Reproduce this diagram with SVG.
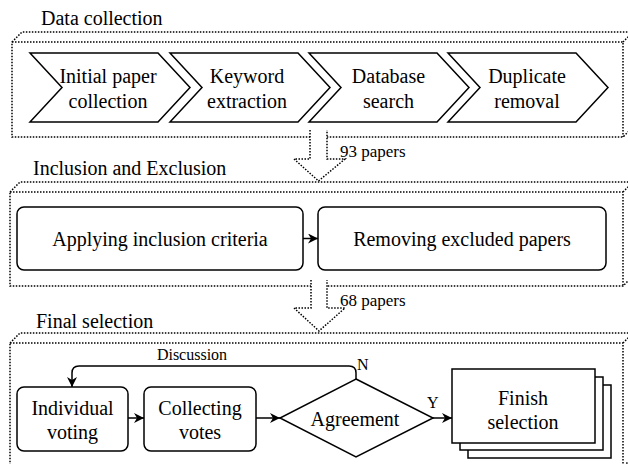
<svg xmlns="http://www.w3.org/2000/svg" width="628" height="464" viewBox="0 0 628 464" font-family="'Liberation Serif', 'DejaVu Serif', serif">
<style>
text{font-family:'Liberation Serif','Times New Roman','DejaVu Serif',serif;fill:#000}
.t20{font-size:20px}
.t17{font-size:17px}
.t16{font-size:16px}
.c{text-anchor:middle}
.dot{fill:#fff;stroke:#000;stroke-width:1.5;stroke-dasharray:1.5 1.5}
.dotl{fill:none;stroke:#000;stroke-width:1.5;stroke-dasharray:1.5 1.5}
.n{fill:#fff;stroke:#000;stroke-width:1.5}
.e{fill:none;stroke:#000;stroke-width:1.5}
</style>
<defs>
<marker id="ah" viewBox="0 0 10 10" refX="10" refY="5" markerWidth="10" markerHeight="10" markerUnits="userSpaceOnUse" orient="auto">
<path d="M0,0 L10,5 L0,10 L3,5 Z" fill="#000"/>
</marker>
</defs>

<g id="containers">
<g id="c1">
<path class="dot" d="M12,42 L22,32 L633,32 L633,127 L623,137 L12,137 Z"/>
<path class="dotl" d="M12,42 L623,42 L623,137 M623,42 L633,32"/>
<text class="t20" x="41" y="25">Data collection</text>
</g>
<g id="c2">
<path class="dot" d="M10,192 L20,182 L633,182 L633,276 L623,286 L10,286 Z"/>
<path class="dotl" d="M10,192 L623,192 L623,286 M623,192 L633,182"/>
<text class="t20" x="33" y="175">Inclusion and Exclusion</text>
</g>
<g id="c3">
<path class="dot" d="M10,343 L20,333 L633,333 L633,457 L623,467 L10,467 Z"/>
<path class="dotl" d="M10,343 L623,343 L623,467 M623,343 L633,333"/>
<text class="t20" x="36" y="328">Final selection</text>
</g>
</g>

<g id="flow1">
<path class="dot" d="M310,130 L310,159 L294,159 L318.5,181 L345,159 L327,159 L327,130"/>
<text class="t17" x="340" y="157">93 papers</text>
</g>
<g id="flow2">
<path class="dot" d="M311,280 L311,308 L294,308 L319,331 L345,308 L327,308 L327,280"/>
<text class="t17" x="340" y="306">68 papers</text>
</g>

<g id="s1">
<path class="n" d="M30,53 L158,53 L190,87.5 L158,122 L30,122 L62,87.5 Z"/>
<text class="t20 c" x="108" y="83">Initial paper</text>
<text class="t20 c" x="108" y="108">collection</text>
</g>
<g id="s2">
<path class="n" d="M170,53 L298,53 L330,87.5 L298,122 L170,122 L202,87.5 Z"/>
<text class="t20 c" x="247" y="83">Keyword</text>
<text class="t20 c" x="247" y="108">extraction</text>
</g>
<g id="s3">
<path class="n" d="M309,53 L437,53 L469,87.5 L437,122 L309,122 L341,87.5 Z"/>
<text class="t20 c" x="388.5" y="83">Database</text>
<text class="t20 c" x="388.5" y="108">search</text>
</g>
<g id="s4">
<path class="n" d="M448,53 L576,53 L608,87.5 L576,122 L448,122 L480,87.5 Z"/>
<text class="t20 c" x="527" y="83">Duplicate</text>
<text class="t20 c" x="527" y="108">removal</text>
</g>

<g id="inc">
<rect class="n" x="17" y="207" width="286" height="63" rx="7"/>
<text class="t20 c" x="160" y="246">Applying inclusion criteria</text>
</g>
<g id="exc">
<rect class="n" x="318" y="207" width="288" height="63" rx="7"/>
<text class="t20 c" x="462" y="246">Removing excluded papers</text>
</g>

<g id="vote">
<rect class="n" x="17" y="387" width="111" height="64" rx="7"/>
<text class="t20 c" x="72.5" y="415">Individual</text>
<text class="t20 c" x="72.5" y="439">voting</text>
</g>
<g id="collect">
<rect class="n" x="144" y="387" width="112" height="64" rx="7"/>
<text class="t20 c" x="200" y="415">Collecting</text>
<text class="t20 c" x="200" y="439">votes</text>
</g>
<g id="agree">
<path class="n" d="M356,379 L433,418 L356,457 L280,418 Z"/>
<text class="t20 c" x="355" y="426">Agreement</text>
</g>
<g id="finish">
<rect class="n" x="468" y="385" width="143" height="73"/>
<rect class="n" x="460" y="377" width="143" height="73"/>
<rect class="n" x="452" y="369" width="143" height="74"/>
<text class="t20 c" x="523" y="405">Finish</text>
<text class="t20 c" x="523" y="429">selection</text>
</g>

<g id="connectors">
<path class="e" d="M303,238.5 L318,238.5" marker-end="url(#ah)"/>
<path class="e" d="M128,418 L144,418" marker-end="url(#ah)"/>
<path class="e" d="M256,418 L280,418" marker-end="url(#ah)"/>
<path class="e" d="M433,418 L452,418" marker-end="url(#ah)"/>
<path class="e" d="M356,379 L356,373 Q356,366 349,366 L79,366 Q72,366 72,373 L72,387" marker-end="url(#ah)"/>
<text class="t16 c" x="192" y="360">Discussion</text>
<text class="t16" x="357" y="370">N</text>
<text class="t16" x="427" y="408">Y</text>
</g>
</svg>
